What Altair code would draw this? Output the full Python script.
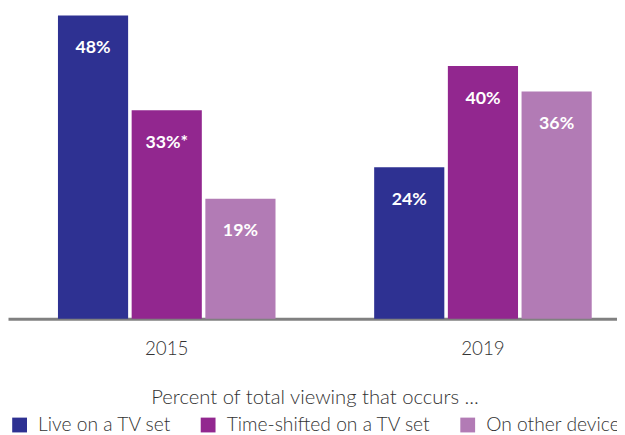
import altair as alt
import pandas as pd

years = ["2015", "2015", "2015", "2019", "2019", "2019"]
series = ["Live on a TV set", "Time-shifted on a TV set", "On other device",
          "Live on a TV set", "Time-shifted on a TV set", "On other device"]
values = [48, 33, 19, 24, 40, 36]
labels = ["48%", "33%*", "19%", "24%", "40%", "36%"]

series_order = ["Live on a TV set", "Time-shifted on a TV set", "On other device"]
colors = ["#2e3192", "#92278f", "#b27bb5"]

df = pd.DataFrame({"year": years, "series": series, "value": values, "label": labels})

FONT = "Lato"
xscale = alt.Scale(range=[0, 642], paddingInner=0.312, paddingOuter=0.158)

x = alt.X("year:N", title=None, scale=xscale,
          axis=alt.Axis(labelAngle=0, ticks=False, domainColor="#808080", domainWidth=3,
                        labelFontSize=19, labelColor="#333333", labelFont=FONT,
                        labelFontWeight=300, labelPadding=21))
xo = alt.XOffset("series:N", sort=series_order,
                 scale=alt.Scale(paddingInner=0.048, paddingOuter=0))
y = alt.Y("value:Q", scale=alt.Scale(domain=[0, 48.75], nice=False, zero=True), axis=None)

bars = alt.Chart(df).mark_bar().encode(
    x=x, xOffset=xo, y=y,
    color=alt.Color("series:N", sort=series_order,
                    scale=alt.Scale(domain=series_order, range=colors),
                    legend=alt.Legend(title="Percent of total viewing that occurs ...",
                                      orient="none", direction="horizontal",
                                      legendX=2, legendY=382,
                                      titleAnchor="middle", titleFontSize=20.5,
                                      titleFont=FONT, titleFontWeight=300,
                                      titleColor="#333333", titlePadding=7,
                                      titleLimit=700, labelLimit=400,
                                      labelFontSize=19.5, labelFont=FONT, labelFontWeight=300,
                                      labelColor="#333333", symbolType="square",
                                      symbolSize=225, symbolStrokeWidth=0,
                                      symbolOpacity=1, columnPadding=27, labelOffset=9)),
)

text = alt.Chart(df).mark_text(color="white", fontSize=18, fontWeight="bold",
                               font=FONT, dy=33, baseline="middle").encode(
    x=alt.X("year:N", title=None, scale=xscale),
    xOffset=xo, y=y, text="label:N")

chart = alt.layer(bars, text).properties(
    width=617, height=312,
    padding={"left": 0, "top": 0, "right": 0, "bottom": 125},
    autosize=alt.AutoSizeParams(type="none"),
).configure_view(stroke=None)

chart.save("out.html", embed_options={"renderer": "svg", "actions": False})
